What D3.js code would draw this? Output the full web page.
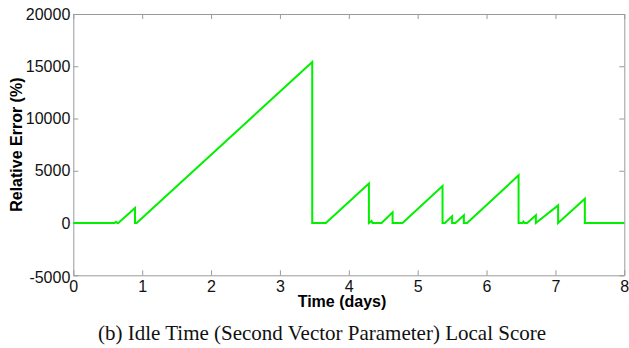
<!DOCTYPE html>
<html>
<head>
<meta charset="utf-8">
<script src="https://cdn.jsdelivr.net/npm/d3@7"></script>
<style>
  html, body { margin: 0; padding: 0; background: #fff; }
  svg { display: block; }
</style>
</head>
<body>
<svg id="chart" width="629" height="348"></svg>
<script>
// Local score of the idle-time parameter over eight days (relative error, %)
const timeDays = [0, 0.60, 0.62, 0.64, 0.653, 0.896, 0.896, 0.92, 3.469, 3.469, 3.667, 4.292, 4.292, 4.33, 4.345, 4.36,
  4.476, 4.636, 4.636, 4.78, 5.361, 5.361, 5.395, 5.50, 5.50, 5.548, 5.671, 5.671, 5.718, 6.465, 6.465,
  6.52, 6.535, 6.55, 6.59, 6.716, 6.716, 7.039, 7.039, 7.427, 7.427, 8];
const relError = [0, 0, 120, 0, 0, 1434, 0, 0, 15400, 0, 0, 3770, 0, 200, 0, 0,
  0, 1020, 0, 0, 3540, 0, 0, 640, 0, 0, 736, 0, 0, 4560, 0,
  0, 150, 0, 0, 736, 0, 1690, 0, 2330, 0, 0];

const xTicks = [0, 1, 2, 3, 4, 5, 6, 7, 8];
const yTicks = [-5000, 0, 5000, 10000, 15000, 20000];

const xTitle = "Time (days)";
const yTitle = "Relative Error (%)";
const caption = "(b) Idle Time (Second Vector Parameter) Local Score";

const svg = d3.select("#chart");
const plot = { left: 73.3, right: 624.3, top: 14, bottom: 275.3 };

const x = d3.scaleLinear().domain([0, 8]).range([plot.left, plot.right]);
const y = d3.scaleLinear().domain([-5000, 20000]).range([plot.bottom, plot.top]);

const axisColor = "#9a9a9a";
const tickFont = "'Liberation Sans', Arial, sans-serif";
const plainNumber = d => String(d);

// Box-style axes with inward ticks on all four sides
const axes = [
  { axis: d3.axisBottom(x).tickValues(xTicks), tr: `translate(0,${plot.bottom})`, labels: true, pad: 5 },
  { axis: d3.axisTop(x).tickValues(xTicks), tr: `translate(0,${plot.top})`, labels: false, pad: 3 },
  { axis: d3.axisLeft(y).tickValues(yTicks), tr: `translate(${plot.left},0)`, labels: true, pad: 3 },
  { axis: d3.axisRight(y).tickValues(yTicks), tr: `translate(${plot.right},0)`, labels: false, pad: 3 }
];

axes.forEach(a => {
  a.axis.tickSizeInner(-5).tickSizeOuter(0).tickPadding(a.pad).tickFormat(plainNumber);
  const g = svg.append("g").attr("transform", a.tr).call(a.axis);
  g.select(".domain").attr("stroke", axisColor).attr("stroke-width", 1);
  g.selectAll(".tick line").attr("stroke", axisColor).attr("stroke-width", 1);
  g.selectAll(".tick text")
    .attr("fill", "#111")
    .style("font-family", tickFont)
    .style("font-size", "16px")
    .style("display", a.labels ? null : "none");
});

// Nudge the lowest y label down, as it sits against the x-axis
svg.selectAll("text").filter(function () { return this.textContent === "-5000"; })
  .attr("dy", "0.45em");

// Data line
const line = d3.line().x((d, i) => x(timeDays[i])).y(d => y(d));
svg.append("path")
  .datum(relError)
  .attr("d", line)
  .attr("fill", "none")
  .attr("stroke", "#00f000")
  .attr("stroke-width", 2)
  .attr("stroke-linejoin", "miter");

// Axis titles
svg.append("text")
  .attr("x", 342).attr("y", 307)
  .attr("text-anchor", "middle")
  .style("font-family", tickFont)
  .style("font-size", "16px")
  .style("font-weight", "bold")
  .text(xTitle);

svg.append("text")
  .attr("transform", `translate(21.5,${(plot.top + plot.bottom) / 2}) rotate(-90)`)
  .attr("text-anchor", "middle")
  .style("font-family", tickFont)
  .style("font-size", "16px")
  .style("font-weight", "bold")
  .text(yTitle);

// Caption
svg.append("text")
  .attr("x", 322).attr("y", 340)
  .attr("text-anchor", "middle")
  .style("font-family", "'Liberation Serif', 'Times New Roman', serif")
  .style("font-size", "21px")
  .attr("fill", "#111")
  .text(caption);
</script>
</body>
</html>
